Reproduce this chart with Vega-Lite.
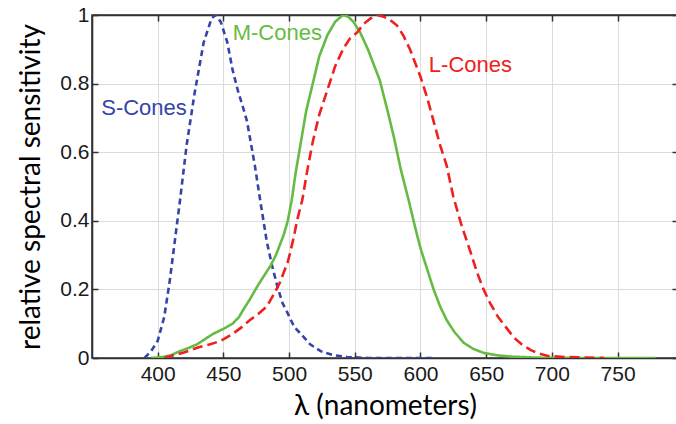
{
  "$schema": "https://vega.github.io/schema/vega-lite/v6.json",
  "autosize": {"type": "none"},
  "width": 586,
  "height": 343,
  "padding": {"left": 92, "top": 15, "right": 0, "bottom": 66},
  "background": "white",
  "config": {
    "font": "Liberation Sans",
    "view": {"stroke": "#333333", "strokeWidth": 1.6},
    "axis": {
      "domainColor": "#333333",
      "domainWidth": 1.6,
      "tickColor": "#333333",
      "tickWidth": 1.5,
      "tickSize": -6,
      "gridColor": "#dcdcdc",
      "gridWidth": 1,
      "labelFont": "Liberation Sans",
      "labelFontSize": 21,
      "labelColor": "#1a1a1a",
      "titleFont": "Lato",
      "titleFontSize": 28,
      "titleFontWeight": "normal",
      "titleColor": "#000000"
    }
  },
  "resolve": {"axis": {"x": "independent", "y": "independent"}},
  "datasets": {
    "curves": [
      {"cone": "S", "nm": 390, "s": 0},
      {"cone": "S", "nm": 395, "s": 0.02},
      {"cone": "S", "nm": 400, "s": 0.05},
      {"cone": "S", "nm": 405, "s": 0.12},
      {"cone": "S", "nm": 409, "s": 0.22},
      {"cone": "S", "nm": 413, "s": 0.34},
      {"cone": "S", "nm": 417, "s": 0.46},
      {"cone": "S", "nm": 422, "s": 0.62},
      {"cone": "S", "nm": 428, "s": 0.77},
      {"cone": "S", "nm": 435, "s": 0.92},
      {"cone": "S", "nm": 441, "s": 0.99},
      {"cone": "S", "nm": 444, "s": 1.0},
      {"cone": "S", "nm": 448, "s": 0.98},
      {"cone": "S", "nm": 453, "s": 0.92},
      {"cone": "S", "nm": 457, "s": 0.84},
      {"cone": "S", "nm": 461, "s": 0.78},
      {"cone": "S", "nm": 465, "s": 0.73},
      {"cone": "S", "nm": 468, "s": 0.69},
      {"cone": "S", "nm": 474, "s": 0.56},
      {"cone": "S", "nm": 478, "s": 0.46},
      {"cone": "S", "nm": 483, "s": 0.34},
      {"cone": "S", "nm": 487, "s": 0.27},
      {"cone": "S", "nm": 491, "s": 0.21},
      {"cone": "S", "nm": 495, "s": 0.16},
      {"cone": "S", "nm": 499, "s": 0.13},
      {"cone": "S", "nm": 504, "s": 0.09},
      {"cone": "S", "nm": 509, "s": 0.07},
      {"cone": "S", "nm": 516, "s": 0.04},
      {"cone": "S", "nm": 524, "s": 0.02},
      {"cone": "S", "nm": 534, "s": 0.008},
      {"cone": "S", "nm": 544, "s": 0.003},
      {"cone": "S", "nm": 560, "s": 0},
      {"cone": "S", "nm": 610, "s": 0},
      {"cone": "M", "nm": 395, "s": 0},
      {"cone": "M", "nm": 404, "s": 0.003},
      {"cone": "M", "nm": 410, "s": 0.008},
      {"cone": "M", "nm": 417, "s": 0.02},
      {"cone": "M", "nm": 424, "s": 0.03},
      {"cone": "M", "nm": 430, "s": 0.04},
      {"cone": "M", "nm": 436, "s": 0.055},
      {"cone": "M", "nm": 442, "s": 0.07},
      {"cone": "M", "nm": 450, "s": 0.085},
      {"cone": "M", "nm": 457, "s": 0.1},
      {"cone": "M", "nm": 462, "s": 0.12},
      {"cone": "M", "nm": 465, "s": 0.14},
      {"cone": "M", "nm": 470, "s": 0.17},
      {"cone": "M", "nm": 476, "s": 0.21},
      {"cone": "M", "nm": 481, "s": 0.24},
      {"cone": "M", "nm": 486, "s": 0.27},
      {"cone": "M", "nm": 490, "s": 0.3},
      {"cone": "M", "nm": 493, "s": 0.33},
      {"cone": "M", "nm": 496, "s": 0.36},
      {"cone": "M", "nm": 499, "s": 0.4},
      {"cone": "M", "nm": 502, "s": 0.46},
      {"cone": "M", "nm": 505, "s": 0.54},
      {"cone": "M", "nm": 509, "s": 0.63},
      {"cone": "M", "nm": 513, "s": 0.72},
      {"cone": "M", "nm": 518, "s": 0.8},
      {"cone": "M", "nm": 523, "s": 0.88},
      {"cone": "M", "nm": 529, "s": 0.94},
      {"cone": "M", "nm": 535, "s": 0.98},
      {"cone": "M", "nm": 541, "s": 1.0},
      {"cone": "M", "nm": 545, "s": 0.995},
      {"cone": "M", "nm": 549, "s": 0.98},
      {"cone": "M", "nm": 554, "s": 0.95},
      {"cone": "M", "nm": 560, "s": 0.9},
      {"cone": "M", "nm": 565, "s": 0.85},
      {"cone": "M", "nm": 569, "s": 0.81},
      {"cone": "M", "nm": 575, "s": 0.72},
      {"cone": "M", "nm": 580, "s": 0.64},
      {"cone": "M", "nm": 585, "s": 0.55},
      {"cone": "M", "nm": 591, "s": 0.46},
      {"cone": "M", "nm": 596, "s": 0.38},
      {"cone": "M", "nm": 600, "s": 0.32},
      {"cone": "M", "nm": 605, "s": 0.26},
      {"cone": "M", "nm": 610, "s": 0.2},
      {"cone": "M", "nm": 615, "s": 0.15},
      {"cone": "M", "nm": 620, "s": 0.11},
      {"cone": "M", "nm": 626, "s": 0.075},
      {"cone": "M", "nm": 633, "s": 0.044},
      {"cone": "M", "nm": 640, "s": 0.027},
      {"cone": "M", "nm": 648, "s": 0.015},
      {"cone": "M", "nm": 658, "s": 0.008},
      {"cone": "M", "nm": 669, "s": 0.004},
      {"cone": "M", "nm": 690, "s": 0.001},
      {"cone": "M", "nm": 720, "s": 0},
      {"cone": "M", "nm": 779, "s": 0},
      {"cone": "L", "nm": 405, "s": 0},
      {"cone": "L", "nm": 412, "s": 0.008},
      {"cone": "L", "nm": 420, "s": 0.016},
      {"cone": "L", "nm": 430, "s": 0.03},
      {"cone": "L", "nm": 440, "s": 0.04},
      {"cone": "L", "nm": 448, "s": 0.05},
      {"cone": "L", "nm": 457, "s": 0.07},
      {"cone": "L", "nm": 464, "s": 0.09},
      {"cone": "L", "nm": 470, "s": 0.11},
      {"cone": "L", "nm": 477, "s": 0.13},
      {"cone": "L", "nm": 483, "s": 0.15},
      {"cone": "L", "nm": 489, "s": 0.19},
      {"cone": "L", "nm": 493, "s": 0.22},
      {"cone": "L", "nm": 496, "s": 0.25},
      {"cone": "L", "nm": 499, "s": 0.28},
      {"cone": "L", "nm": 501, "s": 0.31},
      {"cone": "L", "nm": 504, "s": 0.36},
      {"cone": "L", "nm": 506, "s": 0.4},
      {"cone": "L", "nm": 508, "s": 0.43},
      {"cone": "L", "nm": 510, "s": 0.46},
      {"cone": "L", "nm": 514, "s": 0.55},
      {"cone": "L", "nm": 518, "s": 0.63},
      {"cone": "L", "nm": 523, "s": 0.71},
      {"cone": "L", "nm": 529, "s": 0.78},
      {"cone": "L", "nm": 535, "s": 0.85},
      {"cone": "L", "nm": 541, "s": 0.9},
      {"cone": "L", "nm": 546, "s": 0.93},
      {"cone": "L", "nm": 552, "s": 0.95},
      {"cone": "L", "nm": 557, "s": 0.975},
      {"cone": "L", "nm": 562, "s": 0.99},
      {"cone": "L", "nm": 567, "s": 1.0},
      {"cone": "L", "nm": 572, "s": 0.995},
      {"cone": "L", "nm": 577, "s": 0.985},
      {"cone": "L", "nm": 582, "s": 0.97},
      {"cone": "L", "nm": 587, "s": 0.94},
      {"cone": "L", "nm": 592, "s": 0.9},
      {"cone": "L", "nm": 596, "s": 0.86},
      {"cone": "L", "nm": 600, "s": 0.82},
      {"cone": "L", "nm": 605, "s": 0.76},
      {"cone": "L", "nm": 610, "s": 0.69},
      {"cone": "L", "nm": 615, "s": 0.62},
      {"cone": "L", "nm": 620, "s": 0.56},
      {"cone": "L", "nm": 625, "s": 0.47},
      {"cone": "L", "nm": 631, "s": 0.39},
      {"cone": "L", "nm": 638, "s": 0.31},
      {"cone": "L", "nm": 643, "s": 0.25},
      {"cone": "L", "nm": 648, "s": 0.2},
      {"cone": "L", "nm": 653, "s": 0.16},
      {"cone": "L", "nm": 659, "s": 0.12},
      {"cone": "L", "nm": 665, "s": 0.09},
      {"cone": "L", "nm": 671, "s": 0.06},
      {"cone": "L", "nm": 677, "s": 0.04},
      {"cone": "L", "nm": 684, "s": 0.023},
      {"cone": "L", "nm": 690, "s": 0.013},
      {"cone": "L", "nm": 697, "s": 0.006},
      {"cone": "L", "nm": 710, "s": 0.003},
      {"cone": "L", "nm": 720, "s": 0.002},
      {"cone": "L", "nm": 740, "s": 0}
    ],
    "labels": [
      {"cone": "S", "nm": 389.6, "s": 0.729, "label": "S-Cones"},
      {"cone": "M", "nm": 491, "s": 0.947, "label": "M-Cones"},
      {"cone": "L", "nm": 638, "s": 0.854, "label": "L-Cones"}
    ]
  },
  "layer": [
    {
      "data": {"name": "curves"},
      "mark": {"type": "line", "strokeWidth": 2.6, "clip": true},
      "encoding": {
        "x": {
          "field": "nm", "type": "quantitative",
          "scale": {"domain": [350, 796], "nice": false, "zero": false},
          "axis": {"values": [400, 450, 500, 550, 600, 650, 700, 750], "title": "λ (nanometers)", "labelPadding": 11, "titlePadding": 8, "grid": true}
        },
        "y": {
          "field": "s", "type": "quantitative",
          "scale": {"domain": [0, 1], "nice": false},
          "axis": {"values": [0, 0.2, 0.4, 0.6, 0.8, 1], "format": ".1~f", "title": "relative spectral sensitivity", "labelPadding": 9, "titlePadding": 14, "grid": true}
        },
        "color": {
          "field": "cone", "type": "nominal",
          "scale": {"domain": ["S", "M", "L"], "range": ["#3346a8", "#66bb44", "#ee2020"]},
          "legend": null
        },
        "strokeDash": {
          "field": "cone", "type": "nominal",
          "scale": {"domain": ["S", "M", "L"], "range": [[6, 4], [1, 0], [10, 5]]},
          "legend": null
        },
        "detail": {"field": "cone"}
      }
    },
    {
      "data": {"name": "labels"},
      "mark": {"type": "text", "font": "Liberation Sans", "fontSize": 22, "align": "center", "baseline": "middle"},
      "encoding": {
        "x": {
          "field": "nm", "type": "quantitative",
          "axis": {"orient": "top", "values": [400, 450, 500, 550, 600, 650, 700, 750], "labels": false, "title": null, "grid": false}
        },
        "y": {
          "field": "s", "type": "quantitative",
          "axis": {"orient": "right", "values": [0, 0.2, 0.4, 0.6, 0.8, 1], "labels": false, "title": null, "grid": false}
        },
        "text": {"field": "label"},
        "color": {"field": "cone", "type": "nominal", "legend": null}
      }
    }
  ]
}
